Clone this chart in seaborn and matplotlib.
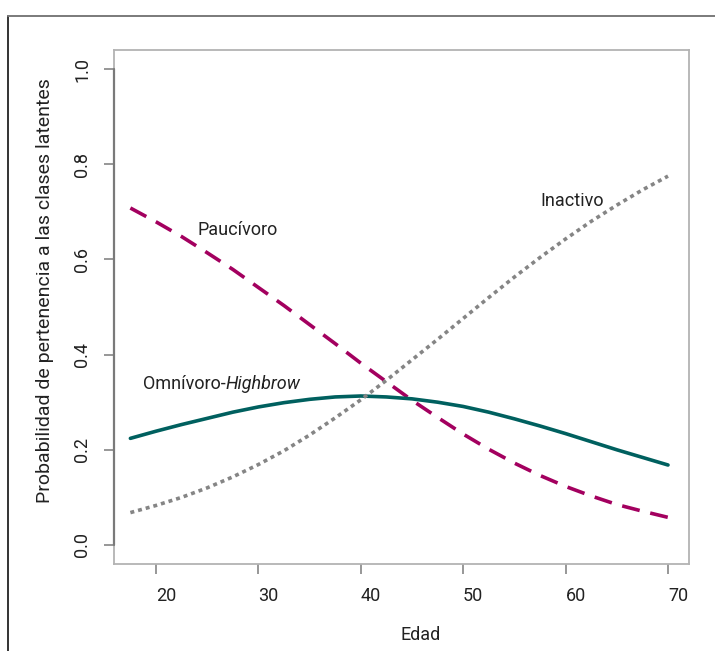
import matplotlib
matplotlib.use("Agg")
import matplotlib.pyplot as plt
import matplotlib.transforms as mtransforms
from matplotlib.lines import Line2D
import numpy as np
import pandas as pd
import seaborn as sns

# Edad (años)
edad = [17.5, 20, 22.5, 25, 27.5, 30, 32.5, 35, 37.5, 40, 42.5, 45,
        47.5, 50, 52.5, 55, 57.5, 60, 62.5, 65, 67.5, 70]

# Probabilidad de pertenencia a cada clase latente
paucivoro = [0.708, 0.679, 0.648, 0.614, 0.579, 0.541, 0.503, 0.463,
             0.423, 0.382, 0.343, 0.304, 0.268, 0.233, 0.201, 0.172,
             0.146, 0.123, 0.103, 0.085, 0.071, 0.058]
omnivoro = [0.224, 0.239, 0.253, 0.266, 0.279, 0.290, 0.299, 0.306,
            0.311, 0.313, 0.311, 0.307, 0.300, 0.291, 0.279, 0.265,
            0.250, 0.234, 0.217, 0.200, 0.184, 0.168]
inactivo = [0.068, 0.083, 0.100, 0.120, 0.143, 0.169, 0.198, 0.231,
            0.267, 0.305, 0.346, 0.389, 0.432, 0.476, 0.520, 0.563,
            0.604, 0.643, 0.680, 0.714, 0.746, 0.775]

yticks = [0.0, 0.2, 0.4, 0.6, 0.8, 1.0]
xticks = [20, 30, 40, 50, 60, 70]

clases = ["Paucívoro", "Omnívoro", "Inactivo"]
colores = {"Paucívoro": "#a3005f", "Omnívoro": "#00605f", "Inactivo": "#858585"}
trazos = {"Paucívoro": (5.0, 3.0), "Omnívoro": "", "Inactivo": (1.1, 1.1)}

df = pd.DataFrame({
    "Edad": edad * 3,
    "Probabilidad": paucivoro + omnivoro + inactivo,
    "Clase": [c for c in clases for _ in edad],
})

sns.set_theme(style="white")
plt.rcParams["font.family"] = ["Roboto", "DejaVu Sans"]

fig = plt.figure(figsize=(7.15, 6.51), dpi=100)
ax = fig.add_axes([114 / 715, 1 - 564 / 651, 575 / 715, 514 / 651])

sns.lineplot(data=df, x="Edad", y="Probabilidad", hue="Clase", style="Clase",
             palette=colores, dashes=trazos, linewidth=2.6, legend=False,
             ax=ax, estimator=None)

ax.set_xlim(15.9, 72.05)
ax.set_ylim(-0.04, 1.04)

# Marco del área de trazado
for s in ax.spines.values():
    s.set_color("#b3b3b3")
    s.set_linewidth(1.3)
ax.axvline(15.9, ymin=0.04 / 1.08, ymax=1.04 / 1.08, color="#7a7a7a",
           linewidth=1.6, clip_on=False, zorder=5)

ax.set_xticks(xticks)
ax.set_xticklabels([str(v) for v in xticks])
ax.set_yticks(yticks)
ax.set_yticklabels([f"{v:.1f}" for v in yticks], rotation=90, va="center")
ax.tick_params(axis="both", direction="out", length=7.5, width=1.1,
               color="#7a7a7a", labelsize=13, labelcolor="#222222",
               bottom=True, left=True, top=False, right=False)
ax.tick_params(axis="x", pad=9)
ax.tick_params(axis="y", pad=9)

shift = mtransforms.ScaledTranslation(10 / 100, 0, fig.dpi_scale_trans)
for lab in ax.get_xticklabels():
    lab.set_transform(lab.get_transform() + shift)

ax.set_xlabel("Edad", fontsize=13, color="#222222")
ax.xaxis.set_label_coords((421 - 114) / 575, -(626 - 564) / 514)
ax.set_ylabel("Probabilidad de pertenencia a las clases latentes",
              fontsize=14, color="#222222")
ax.yaxis.set_label_coords(-(114 - 54) / 575, (564 - 291) / 514)

# Etiquetas de las curvas
txt_kw = dict(fontsize=13, color="#222222", va="center", ha="left")
ax.text(24.1, 0.661, "Paucívoro", **txt_kw)
ax.text(57.5, 0.722, "Inactivo", **txt_kw)
t1 = ax.text(18.7, 0.339, "Omnívoro-", **txt_kw)
ax.annotate("Highbrow", xy=(1, 0), xycoords=t1, va="bottom", ha="left",
            fontsize=13, color="#222222", style="italic")

# Recuadro exterior de la figura
fig.add_artist(Line2D([7.5 / 715, 7.5 / 715], [0, 1 - 16 / 651],
                      transform=fig.transFigure, color="#333333", linewidth=1.4))
fig.add_artist(Line2D([7.5 / 715, 1], [1 - 16 / 651, 1 - 16 / 651],
                      transform=fig.transFigure, color="#7a7a7a", linewidth=1.4))

fig.savefig("out.png", dpi=100)
